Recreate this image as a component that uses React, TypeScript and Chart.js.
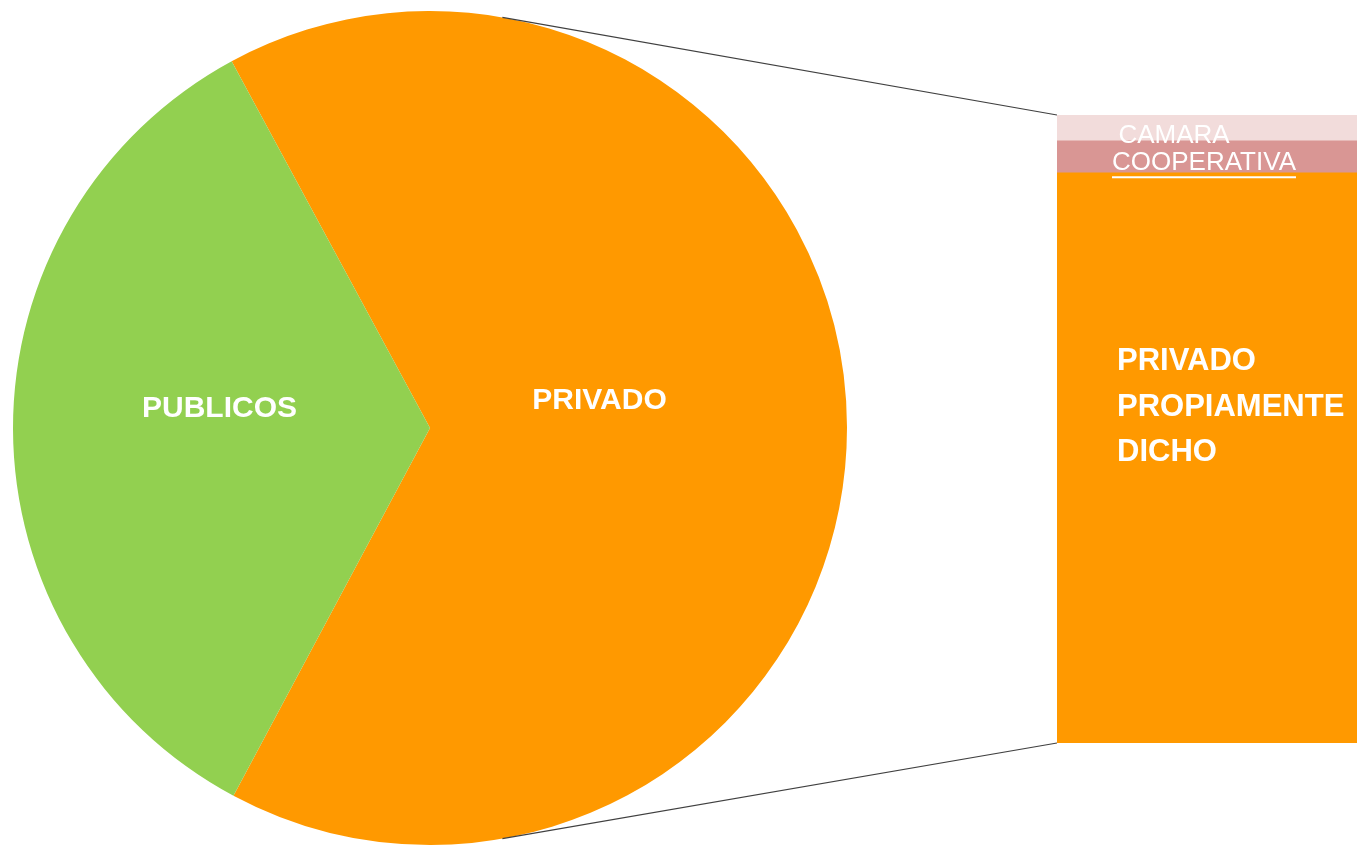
import React, { useEffect, useRef } from "react";
import { Chart, registerables } from "chart.js";

Chart.register(...registerables);

// ---- data ----
const PIE_LABELS = ["PRIVADO", "PUBLICOS"];
const PIE_VALUES = [65.7, 34.3];
const PIE_COLORS = ["#FF9900", "#92D050"];
const PIE_ROTATION = -28.4; // degrees, start of first slice from 12 o'clock

// stacked bar, bottom to top
const BAR_LABELS = ["PRIVADO PROPIAMENTE DICHO", "COOPERATIVA", "CAMARA"];
const BAR_VALUES = [90.8, 5.1, 4.1];
const BAR_COLORS = ["#FF9900", "#D99694", "#F2DCDB"];

const W = 1357;
const H = 846;
const FONT = '"Liberation Sans", Arial, sans-serif';

export default function App() {
  const pieRef = useRef<HTMLCanvasElement>(null);
  const barRef = useRef<HTMLCanvasElement>(null);

  useEffect(() => {
    const pieLabelPlugin = {
      id: "pieLabels",
      afterDatasetsDraw(chart: any) {
        const ctx = chart.ctx;
        const meta = chart.getDatasetMeta(0);
        const offsets = [
          [-39, -29],
          [-2, -22],
        ];
        ctx.save();
        ctx.fillStyle = "#FFFFFF";
        ctx.font = `bold 30px ${FONT}`;
        ctx.textAlign = "center";
        ctx.textBaseline = "alphabetic";
        meta.data.forEach((arc: any, i: number) => {
          const p = arc.tooltipPosition();
          const cx = p.x + offsets[i][0];
          const cy = p.y + offsets[i][1];
          ctx.fillText(PIE_LABELS[i], cx, cy + 30 * 0.358);
        });
        ctx.restore();
      },
    };

    const pie = new Chart(pieRef.current!, {
      type: "pie",
      data: {
        labels: PIE_LABELS,
        datasets: [
          {
            data: PIE_VALUES,
            backgroundColor: PIE_COLORS,
            borderWidth: 0,
          },
        ],
      },
      options: {
        responsive: false,
        animation: false,
        rotation: PIE_ROTATION,
        layout: { padding: { left: 12, top: 11, right: 509, bottom: 1 } },
        plugins: { legend: { display: false }, tooltip: { enabled: false } },
        events: [],
      },
      plugins: [pieLabelPlugin],
    });

    const connectorPlugin = {
      id: "connectors",
      beforeDatasetsDraw(chart: any) {
        const arc: any = pie.getDatasetMeta(0).data[0];
        if (!arc) return;
        const ang = (10 * Math.PI) / 180;
        const r = arc.outerRadius;
        const topBar: any = chart.getDatasetMeta(BAR_VALUES.length - 1).data[0];
        const botBar: any = chart.getDatasetMeta(0).data[0];
        const left = topBar.x - topBar.width / 2;
        const ctx = chart.ctx;
        ctx.save();
        ctx.strokeStyle = "#404040";
        ctx.lineWidth = 1.2;
        ctx.beginPath();
        ctx.moveTo(arc.x + r * Math.sin(ang), arc.y - r * Math.cos(ang));
        ctx.lineTo(left, topBar.y);
        ctx.moveTo(arc.x + r * Math.sin(ang), arc.y + r * Math.cos(ang));
        ctx.lineTo(left, botBar.base);
        ctx.stroke();
        ctx.restore();
      },
    };

    const barLabelPlugin = {
      id: "barLabels",
      afterDatasetsDraw(chart: any) {
        const ctx = chart.ctx;
        ctx.save();
        ctx.fillStyle = "#FFFFFF";
        ctx.strokeStyle = "#FFFFFF";
        // PRIVADO PROPIAMENTE DICHO
        const b0: any = chart.getDatasetMeta(0).data[0];
        const c0 = (b0.y + b0.base) / 2 - 53;
        const x0 = b0.x - b0.width / 2 + 60;
        const lines = ["PRIVADO", "PROPIAMENTE", "DICHO"];
        ctx.font = `bold 31px ${FONT}`;
        ctx.textAlign = "left";
        ctx.textBaseline = "alphabetic";
        lines.forEach((t, i) => {
          ctx.fillText(t, x0, c0 + (i - 1) * 45.5 + 31 * 0.358);
        });
        // COOPERATIVA
        const b1: any = chart.getDatasetMeta(1).data[0];
        ctx.font = `26px ${FONT}`;
        ctx.textAlign = "center";
        const c1x = b1.x - 3;
        const c1y = (b1.y + b1.base) / 2 + 3.5;
        ctx.fillText(BAR_LABELS[1], c1x, c1y + 26 * 0.358);
        const w1 = ctx.measureText(BAR_LABELS[1]).width;
        ctx.fillRect(c1x - w1 / 2, c1y + 16, w1, 2);
        // CAMARA
        const b2: any = chart.getDatasetMeta(2).data[0];
        const c2x = b2.x - 33;
        const c2y = (b2.y + b2.base) / 2 + 6;
        ctx.fillText(BAR_LABELS[2], c2x, c2y + 26 * 0.358);
        ctx.restore();
      },
    };

    const bar = new Chart(barRef.current!, {
      type: "bar",
      data: {
        labels: [""],
        datasets: BAR_LABELS.map((l, i) => ({
          label: l,
          data: [BAR_VALUES[i]],
          backgroundColor: BAR_COLORS[i],
          borderWidth: 0,
          categoryPercentage: 1,
          barPercentage: 1,
        })),
      },
      options: {
        responsive: false,
        animation: false,
        layout: { padding: { left: 1057, top: 115, right: 0, bottom: 103 } },
        scales: {
          x: { stacked: true, display: false },
          y: {
            stacked: true,
            display: false,
            min: 0,
            max: BAR_VALUES.reduce((a, b) => a + b, 0),
          },
        },
        plugins: { legend: { display: false }, tooltip: { enabled: false } },
        events: [],
      },
      plugins: [connectorPlugin, barLabelPlugin],
    });

    return () => {
      bar.destroy();
      pie.destroy();
    };
  }, []);

  return (
    <div
      style={{
        position: "fixed",
        left: 0,
        top: 0,
        width: W,
        height: H,
        background: "#FFFFFF",
        overflow: "hidden",
      }}
    >
      <canvas
        ref={pieRef}
        width={W}
        height={H}
        style={{ position: "absolute", left: 0, top: 0, width: W, height: H }}
      />
      <canvas
        ref={barRef}
        width={W}
        height={H}
        style={{ position: "absolute", left: 0, top: 0, width: W, height: H }}
      />
    </div>
  );
}
